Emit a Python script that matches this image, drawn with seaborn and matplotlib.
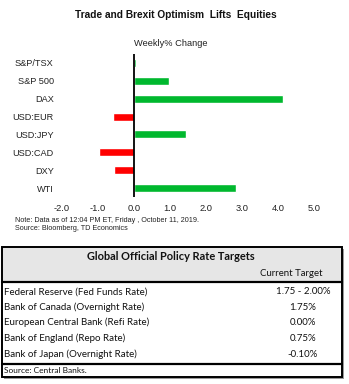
import matplotlib
matplotlib.use("Agg")
import matplotlib.pyplot as plt
from matplotlib.patches import Rectangle
import seaborn as sns
import pandas as pd

# Weekly % change by asset
assets = ["S&P/TSX", "S&P 500", "DAX", "USD:EUR", "USD:JPY", "USD:CAD", "DXY", "WTI"]
changes = [0.05, 0.97, 4.15, -0.58, 1.44, -0.98, -0.56, 2.83]
x_ticks = [-2.0, -1.0, 0.0, 1.0, 2.0, 3.0, 4.0, 5.0]

# Policy rate table
banks = [
    "Federal Reserve (Fed Funds Rate)",
    "Bank of Canada (Overnight Rate)",
    "European Central Bank (Refi Rate)",
    "Bank of England (Repo Rate)",
    "Bank of Japan (Overnight Rate)",
]
targets = ["1.75 - 2.00%", "1.75%", "0.00%", "0.75%", "-0.10%"]

W, H = 349, 384
sns.set_theme(style="white")
plt.rcParams["font.family"] = ["Liberation Sans", "DejaVu Sans"]

fig = plt.figure(figsize=(W / 100, H / 100), dpi=100)
fig.patch.set_facecolor("white")

df = pd.DataFrame({"asset": assets, "change": changes})
df["sign"] = ["up" if v >= 0 else "down" for v in df["change"]]

ax = fig.add_axes([62 / W, 1 - 197 / H, (314 - 62) / W, (197 - 54) / H])
sns.barplot(data=df, x="change", y="asset", hue="sign", order=assets,
            palette={"up": "#00B82E", "down": "#FF0000"}, dodge=False,
            width=0.45, legend=False, saturation=1, ax=ax)
ax.set_xlim(x_ticks[0], x_ticks[-1])
ax.set_ylim(len(assets) - 0.5, -0.5)
ax.axvline(0, color="black", lw=1.3, zorder=5)
for s in ax.spines.values():
    s.set_visible(False)
ax.set_xticks(x_ticks)
ax.set_xticklabels([f"{t:.1f}" for t in x_ticks])
ax.tick_params(axis="x", length=0, pad=5, labelsize=6.7, labelcolor="#222222")
ax.tick_params(axis="y", length=0, pad=6, labelsize=6.6, labelcolor="#222222")
ax.set_xlabel("")
ax.set_ylabel("")
ax.grid(False)

# Overlay axes in pixel coordinates for titles, notes and the table
ov = fig.add_axes([0, 0, 1, 1], zorder=10)
ov.set_xlim(0, W)
ov.set_ylim(H, 0)
ov.axis("off")
ov.patch.set_alpha(0)

ov.text(176, 15, "Trade and Brexit Optimism  Lifts  Equities", ha="center", va="center",
        fontsize=7.3, fontweight="bold", color="#111111")
ov.text(171, 44, "Weekly% Change", ha="center", va="center", fontsize=6.7, color="#222222")
ov.text(15, 220, "Note: Data as of 12:04 PM ET, Friday , October 11, 2019.", ha="left",
        va="center", fontsize=5.2, color="#222222")
ov.text(15, 228, "Source: Bloomberg, TD Economics", ha="left", va="center",
        fontsize=5.2, color="#222222")

# Table
tx0, tx1 = 1.5, 342
ty0, ty1 = 247, 377
tfont = ["Lato", "DejaVu Sans"]
ov.add_patch(Rectangle((tx0 + 2, ty0 + 2), tx1 - tx0, ty1 - ty0, facecolor="#9a9a9a",
                       edgecolor="none", zorder=1))
ov.add_patch(Rectangle((tx0, ty0), tx1 - tx0, ty1 - ty0, facecolor="white",
                       edgecolor="none", zorder=2))
ov.add_patch(Rectangle((tx0, ty0), tx1 - tx0, 281 - ty0, facecolor="#e6e6e6",
                       edgecolor="none", zorder=3))
ov.add_patch(Rectangle((tx0, ty0), tx1 - tx0, ty1 - ty0, facecolor="none",
                       edgecolor="black", lw=1.4, zorder=6))
ov.plot([tx0, tx1], [281.5, 281.5], color="black", lw=1.6, zorder=6)
ov.plot([tx0, tx1], [363.5, 363.5], color="black", lw=1.6, zorder=6)

ov.text(171, 257, "Global Official Policy Rate Targets", ha="center", va="center",
        fontsize=7.9, fontweight="bold", family=tfont, color="#111111", zorder=7)
ov.text(291, 273, "Current Target", ha="center", va="center", fontsize=6.9,
        family=tfont, color="#111111", zorder=7)
row_y = [292, 307.5, 322.5, 338.5, 354.5]
for yy, b, t in zip(row_y, banks, targets):
    ov.text(4, yy, b, ha="left", va="center", fontsize=7.0, family=tfont,
            color="#111111", zorder=7)
    ov.text(303, yy, t, ha="center", va="center", fontsize=7.0, family=tfont,
            color="#111111", zorder=7)
ov.text(4, 370.5, "Source: Central Banks.", ha="left", va="center", fontsize=6.0,
        family=tfont, color="#111111", zorder=7)

fig.savefig("out.png", dpi=100, facecolor="white")
